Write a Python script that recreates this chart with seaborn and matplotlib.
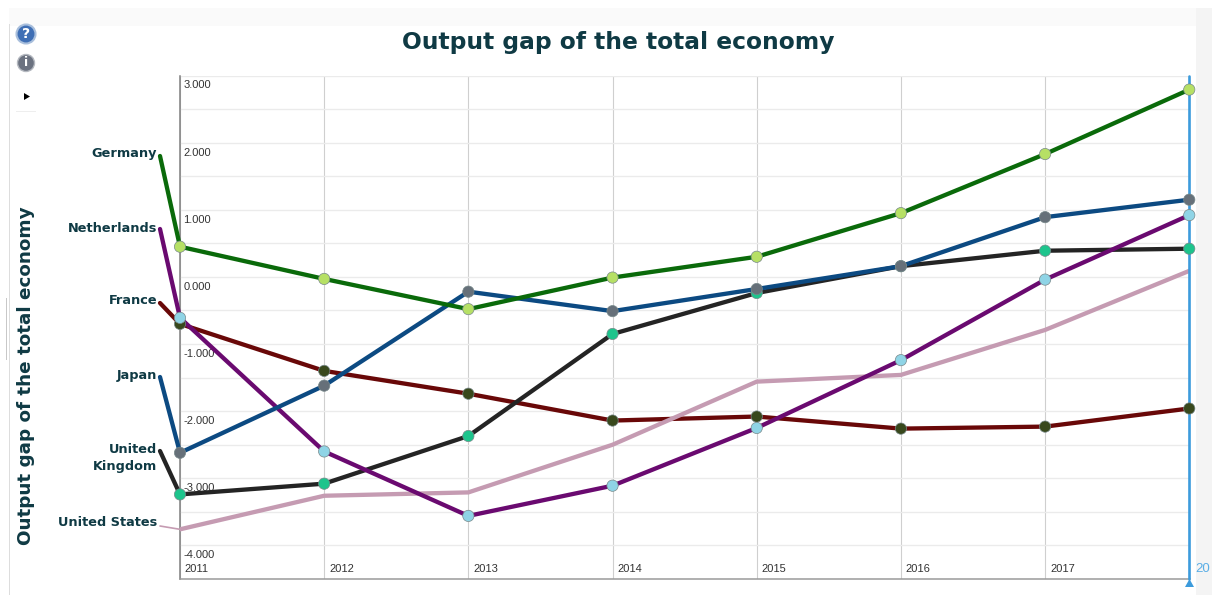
import matplotlib
matplotlib.use("Agg")
import matplotlib.pyplot as plt
from matplotlib.patches import Rectangle, Circle, Polygon
from matplotlib.transforms import IdentityTransform
import pandas as pd
import seaborn as sns

years = [2011, 2012, 2013, 2014, 2015, 2016, 2017, 2018]
germany = [0.45, -0.03, -0.48, -0.01, 0.30, 0.95, 1.83, 2.79]
japan = [-2.62, -1.62, -0.22, -0.51, -0.18, 0.16, 0.89, 1.15]
netherlands = [-0.61, -2.60, -3.56, -3.11, -2.25, -1.24, -0.04, 0.92]
france = [-0.70, -1.40, -1.74, -2.14, -2.08, -2.26, -2.23, -1.96]
united_kingdom = [-3.24, -3.08, -2.37, -0.85, -0.24, 0.16, 0.39, 0.42]
united_states = [-3.76, -3.26, -3.21, -2.50, -1.56, -1.46, -0.79, 0.09]

y_ticks = [-4, -3, -2, -1, 0, 1, 2, 3]
title_text = "Output gap of the total economy"

W, H = 1212, 595
INK = "#0f3a44"

series = {
    "France": france,
    "United States": united_states,
    "United Kingdom": united_kingdom,
    "Netherlands": netherlands,
    "Japan": japan,
    "Germany": germany,
}
line_colors = {
    "Germany": "#0a6a0a",
    "Japan": "#0c4a82",
    "Netherlands": "#6a0a70",
    "France": "#690808",
    "United Kingdom": "#242424",
    "United States": "#c59bb2",
}
dot_colors = {
    "Germany": "#b6e065",
    "Japan": "#667079",
    "Netherlands": "#8fd4e6",
    "France": "#38481c",
    "United Kingdom": "#1dc48c",
}
# Name beside the left axis: label text, pixel height of the text, pixel height of the connector's free end
side_labels = [
    ("Germany", "Germany", 153, 156),
    ("Netherlands", "Netherlands", 228, 229),
    ("France", "France", 301, 303),
    ("Japan", "Japan", 375, 377),
    ("United Kingdom", "United\nKingdom", 458, 451),
    ("United States", "United States", 522, 526),
]

frame = pd.DataFrame(
    [(name, yr, v) for name, vals in series.items() for yr, v in zip(years, vals)],
    columns=["country", "year", "gap"],
)

sns.set_theme(style="white")
fig = plt.figure(figsize=(W / 100, H / 100), dpi=100, facecolor="white")


def page_rect(x, y, w, h, color):
    """Flat rectangle behind the plot, given in top-left pixel coordinates."""
    fig.add_artist(Rectangle((x / W, 1 - (y + h) / H), w / W, h / H, transform=fig.transFigure,
                             fc=color, ec="none", zorder=-1))


def page_circle(x, y, r, face, edge, lw):
    """Round button with its radius in pixels, centred in top-left pixel coordinates."""
    fig.add_artist(Circle((x, H - y), r, transform=IdentityTransform(), fc=face, ec=edge, lw=lw, zorder=2))


# Page furniture around the plot
page_rect(9, 8, 1187, 18, "#fafafa")
page_rect(1196, 8, 16, H - 8, "#f4f4f4")
page_rect(9, 24, 1, H - 24, "#dddddd")
page_rect(6, 298, 1, 62, "#c8c8c8")
page_rect(16, 111, 20, 1, "#eeeeee")

left, right, top, bottom = 180, 1190, 75.5, 579
ax = fig.add_axes([left / W, 1 - bottom / H, (right - left) / W, (bottom - top) / H])
ax.set_xlim(2011, 2018.005)
ax.set_ylim(-4.5, 3.0)
ax.set_facecolor("white")

ax.set_yticks([v / 2 for v in range(-8, 7)])
ax.set_xticks(years[:-1])
ax.set_xticklabels([])
ax.set_yticklabels([])
ax.tick_params(length=0)
ax.grid(True, axis="y", color="#ebebeb", lw=1)
ax.grid(True, axis="x", color="#cfcfcf", lw=0.8)
ax.set_axisbelow(True)
for side in ("top", "right"):
    ax.spines[side].set_visible(False)
ax.spines["left"].set_color("#7f7f7f")
ax.spines["bottom"].set_color("#9a9a9a")
ax.spines["left"].set_linewidth(1.1)
ax.spines["bottom"].set_linewidth(1.1)

# Value and year labels sit inside the plot, just right of the axis
for v in y_ticks:
    ax.annotate(f"{v:.3f}", (2011, v), xytext=(2.5, -7.2), textcoords="offset points",
                fontsize=8, color="#333333", ha="left", va="center", family="Liberation Sans")
for yr in years[:-1]:
    ax.annotate(str(yr), (yr, -4.5), xytext=(3.5, 7.5), textcoords="offset points",
                fontsize=8, color="#333333", ha="left", va="center", family="Liberation Sans")

# Connectors from the country names down to the first data point
for name, text, text_y, py in side_labels:
    start = series[name][0]
    lw = 1.2 if name == "United States" else 3.1
    ax.annotate("", xy=(years[0], start),
                xytext=((160 - left) / (right - left), (bottom - py) / (bottom - top)),
                textcoords="axes fraction", annotation_clip=False,
                arrowprops=dict(arrowstyle="-", color=line_colors[name], lw=lw, shrinkA=0, shrinkB=0))
    ax.annotate(text, xy=(157 / W, 1 - text_y / H), xycoords="figure fraction",
                ha="right", va="center", fontsize=9.3, fontweight="bold", color=INK,
                linespacing=1.45, annotation_clip=False)

sns.lineplot(data=frame, x="year", y="gap", hue="country", palette=line_colors,
             hue_order=list(series), lw=3.1, legend=False, ax=ax, zorder=3, estimator=None)
ax.set_xlabel("")
ax.set_ylabel("")

# Selected-year cursor on the final year
ax.axvline(years[-1], color="#3c9bdc", lw=1.9, zorder=4, clip_on=False)
fig.add_artist(Polygon([[1185 / W, 1 - 587 / H], [1194 / W, 1 - 587 / H], [1189.5 / W, 1 - 579 / H]],
                       transform=fig.transFigure, fc="#3c9bdc", ec="none", zorder=6))
ax.annotate("20", (years[-1], -4.5), xytext=(4, 7.5), textcoords="offset points", fontsize=9.5,
            color="#5aaee6", ha="left", va="center", family="Liberation Sans", annotation_clip=False)

marked = frame[frame["country"].isin(dot_colors)]
sns.scatterplot(data=marked, x="year", y="gap", hue="country", palette=dot_colors,
                hue_order=[n for n in series if n in dot_colors], s=66, linewidth=0.5,
                edgecolor="#77888a", legend=False, ax=ax, zorder=5, clip_on=False)
ax.set_xlabel("")
ax.set_ylabel("")

fig.text(618 / W, 1 - 42 / H, title_text, ha="center", va="center", fontsize=16.8,
         fontweight="bold", color=INK)
fig.text(26 / W, 1 - 376 / H, title_text, ha="center", va="center", rotation=90,
         fontsize=13.2, fontweight="bold", color=INK)

# Help and info buttons with the collapse arrow
page_circle(26, 34, 9.5, "#3f6fb5", "#a9bfdc", 1.5)
fig.text(26 / W, 1 - 34 / H, "?", ha="center", va="center", color="white", fontsize=10,
         fontweight="bold", zorder=3)
page_circle(26, 63, 8.5, "#6b7280", "#b5b9c0", 1)
fig.text(26 / W, 1 - 63 / H, "i", ha="center", va="center", color="white", fontsize=9,
         fontweight="bold", zorder=3)
fig.add_artist(Polygon([[24 / W, 1 - 93 / H], [24 / W, 1 - 100 / H], [30 / W, 1 - 96.5 / H]],
                       transform=fig.transFigure, fc="black", ec="none"))

fig.savefig("out.png", dpi=100, facecolor=fig.get_facecolor())
